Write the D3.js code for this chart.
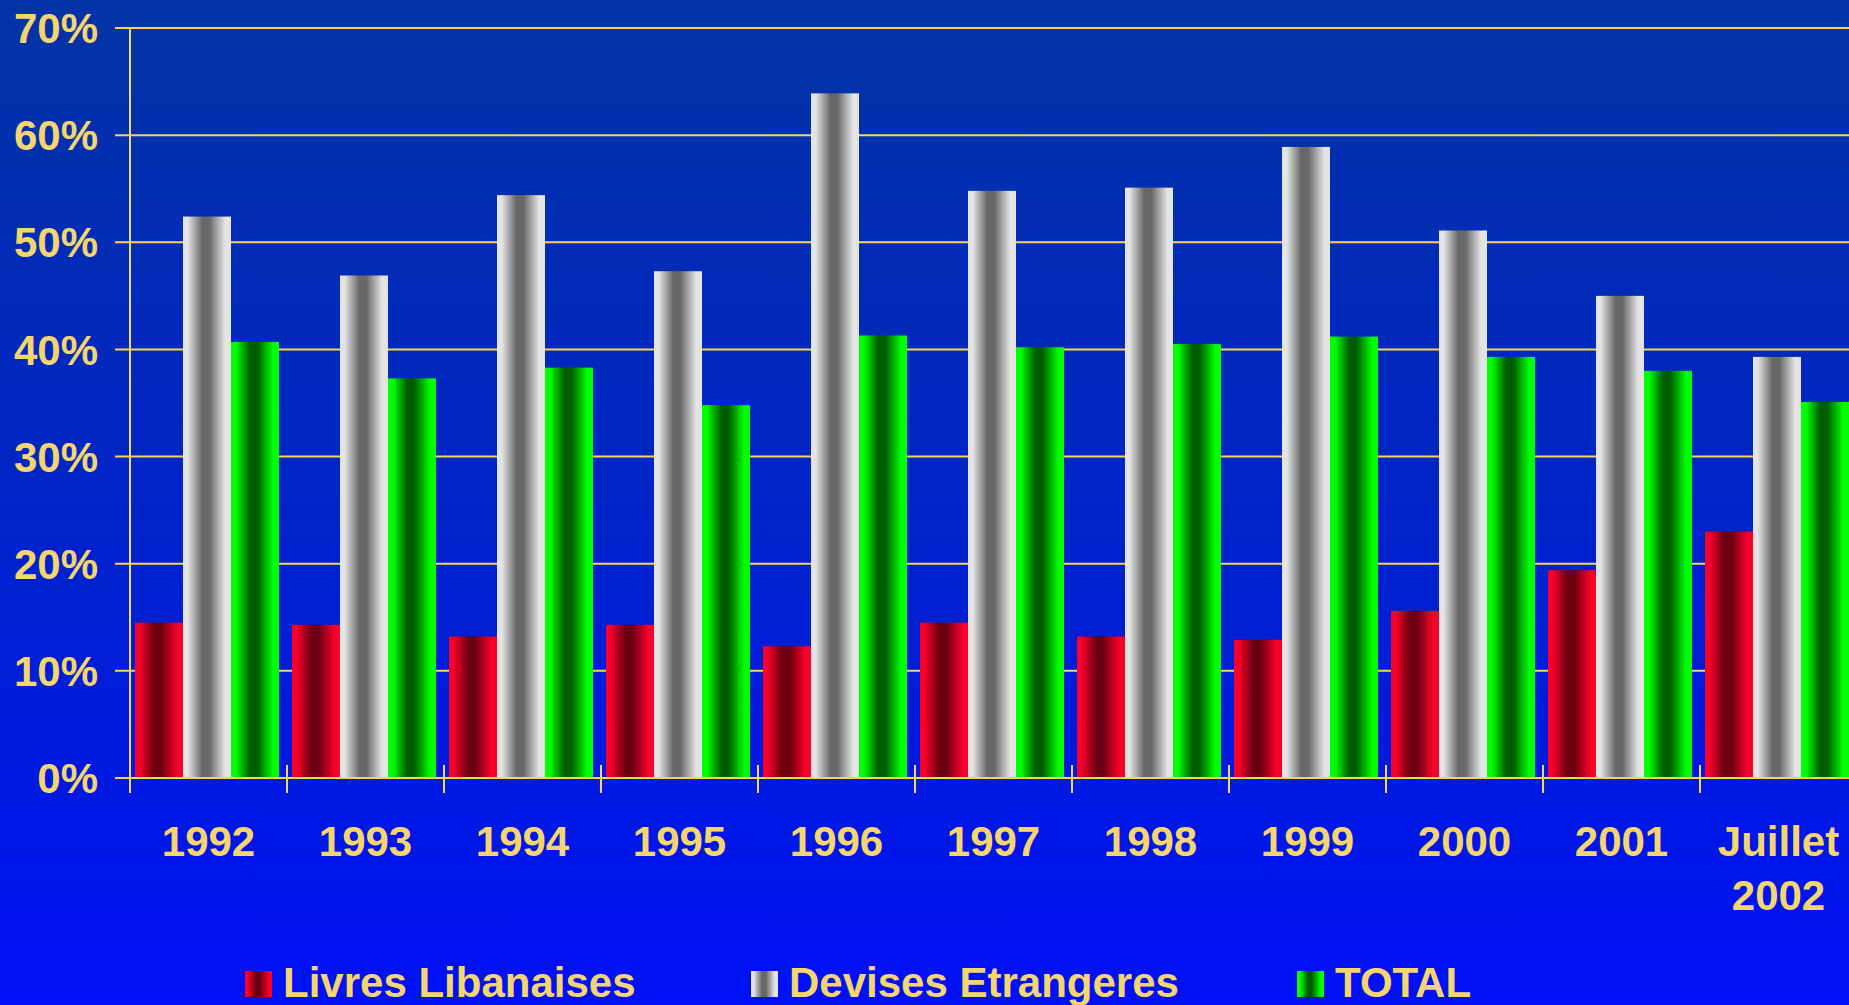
<!DOCTYPE html>
<html><head><meta charset="utf-8">
<script src="https://cdn.jsdelivr.net/npm/d3@7"></script>
<style>html,body{margin:0;padding:0;overflow:hidden;background:#0010f5}</style>
</head><body>
<svg id="c" width="1849" height="1005"></svg>
<script>
const categories = ["1992","1993","1994","1995","1996","1997","1998","1999","2000","2001","Juillet 2002"];
const seriesNames = ["Livres Libanaises","Devises Etrangeres","TOTAL"];
const livres  = [14.5,14.3,13.2,14.3,12.3,14.5,13.2,12.9,15.6,19.4,23.0];
const devises = [52.4,46.9,54.4,47.3,63.9,54.8,55.1,58.9,51.1,45.0,39.3];
const total   = [40.7,37.3,38.3,34.8,41.3,40.2,40.5,41.2,39.3,38.0,35.1];
const yTicks = [0,10,20,30,40,50,60,70];
const yTickLabels = ["0%","10%","20%","30%","40%","50%","60%","70%"];

const seriesValues = [livres, devises, total];
const gradColors = [["#f7002a","#6c0010"],["#e4e4e4","#686868"],["#00ff00","#005e00"]];
const textColor = "#f5d66e";
const lineColor = "#f5d55a";
const font = "'Liberation Sans', Arial, sans-serif";

const svg = d3.select("#c");
const defs = svg.append("defs");
const bg = defs.append("linearGradient").attr("id","bg").attr("x1",0).attr("x2",0).attr("y1",0).attr("y2",1);
bg.append("stop").attr("offset","0").attr("stop-color","#0334a4");
bg.append("stop").attr("offset","0.5").attr("stop-color","#0024c8");
bg.append("stop").attr("offset","1").attr("stop-color","#0010f6");
svg.append("rect").attr("width",1849).attr("height",1005).attr("fill","url(#bg)");

gradColors.forEach((c,i)=>{
  const g = defs.append("linearGradient").attr("id","g"+i).attr("x1",0).attr("x2",1).attr("y1",0).attr("y2",0);
  [[0,c[0]],[0.1,c[0]],[0.4,c[1]],[0.55,c[1]],[0.88,c[0]],[1,c[0]]].forEach(s=>
    g.append("stop").attr("offset",s[0]).attr("stop-color",s[1]));
});

const x0 = 130, bandW = 157;
const x = d3.scaleBand().domain(categories).range([x0, x0 + bandW*categories.length]).paddingInner(0).paddingOuter(0);
const xs = d3.scaleBand().domain(d3.range(3)).range([5, 149]).padding(0);
const y = d3.scaleLinear().domain([0,70]).range([778,28]);

// gridlines
svg.append("g").selectAll("line").data(yTicks).join("line")
  .attr("x1",115).attr("x2",1849).attr("y1",d=>y(d)).attr("y2",d=>y(d))
  .attr("stroke",lineColor).attr("stroke-width",2);

// bars
const groups = svg.append("g").selectAll("g").data(categories).join("g")
  .attr("transform",d=>`translate(${x(d)},0)`);
groups.selectAll("rect").data((d,i)=>seriesValues.map((s,k)=>({k,v:s[i]}))).join("rect")
  .attr("x",d=>xs(d.k)).attr("width",xs.bandwidth())
  .attr("y",d=>y(d.v)).attr("height",d=>y(0)-y(d.v))
  .attr("fill",d=>`url(#g${d.k})`);

// axes
svg.append("line").attr("x1",115).attr("x2",1849).attr("y1",y(0)).attr("y2",y(0)).attr("stroke",lineColor).attr("stroke-width",2);
svg.append("line").attr("x1",x0).attr("x2",x0).attr("y1",y(70)).attr("y2",793).attr("stroke",lineColor).attr("stroke-width",2);
svg.append("g").selectAll("line").data(categories.slice(1)).join("line")
  .attr("x1",d=>x(d)).attr("x2",d=>x(d)).attr("y1",765).attr("y2",793)
  .attr("stroke",lineColor).attr("stroke-width",2);

// y labels
svg.append("g").selectAll("text").data(yTicks).join("text")
  .attr("x",98).attr("y",d=>y(d)).attr("dy","0.36em").attr("text-anchor","end")
  .attr("fill",textColor).attr("font-family",font).attr("font-weight","bold").attr("font-size",42)
  .text((d,i)=>yTickLabels[i]);

// x labels
const xl = svg.append("g").selectAll("text").data(categories).join("text")
  .attr("x",d=>x(d)+x.bandwidth()/2).attr("y",856).attr("text-anchor","middle")
  .attr("fill",textColor).attr("font-family",font).attr("font-weight","bold").attr("font-size",42);
xl.each(function(d){
  const parts = d.split(" ");
  const t = d3.select(this);
  parts.forEach((p,j)=>t.append("tspan").attr("x",x(d)+x.bandwidth()/2).attr("dy",j?54:0).text(p));
});

// legend
const legendX = [245, 751, 1297];
const lg = svg.append("g").selectAll("g").data(seriesNames).join("g")
  .attr("transform",(d,i)=>`translate(${legendX[i]},971)`);
lg.append("rect").attr("width",27).attr("height",26).attr("fill",(d,i)=>`url(#g${i})`);
lg.append("text").attr("x",38).attr("y",26).attr("fill",textColor).attr("font-family",font)
  .attr("font-weight","bold").attr("font-size",42).text(d=>d);
</script>
</body></html>
